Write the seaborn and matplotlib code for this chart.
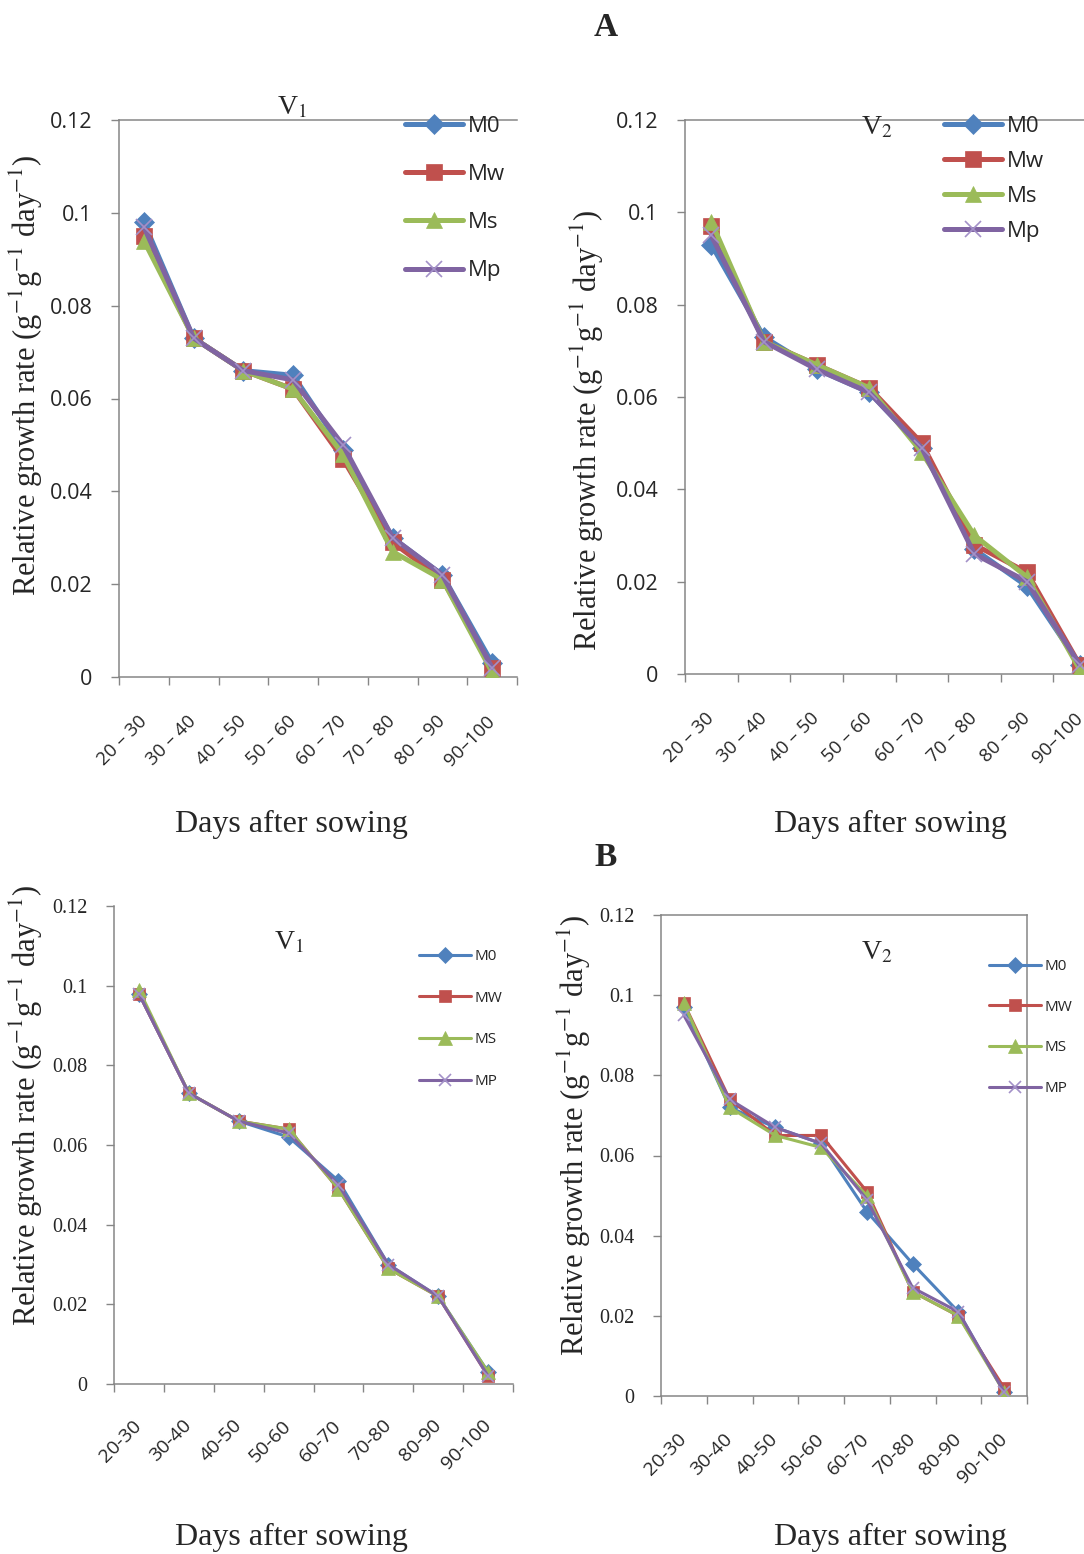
import numpy as np
import pandas as pd
import matplotlib
matplotlib.use("Agg")
import matplotlib.pyplot as plt
import seaborn as sns
from matplotlib.ticker import FixedLocator, FixedFormatter, NullFormatter
from matplotlib.font_manager import FontProperties

# growth stages (days after sowing)
stages = ['20-30', '30-40', '40-50', '50-60', '60-70', '70-80', '80-90', '90-100']
stage_labels_a = ['20 – 30', '30 – 40', '40 – 50', '50 – 60', '60 – 70', '70 – 80', '80 – 90', '90–100']
stage_labels_b = ['20-30', '30-40', '40-50', '50-60', '60-70', '70-80', '80-90', '90-100']
names_a = ['M0', 'Mw', 'Ms', 'Mp']
names_b = ['M0', 'MW', 'MS', 'MP']
y_ticks = [0, 0.02, 0.04, 0.06, 0.08, 0.1, 0.12]
y_tick_labels = ['0', '0.02', '0.04', '0.06', '0.08', '0.1', '0.12']

# panel A, V1
a_v1_m0 = [0.098, 0.073, 0.066, 0.065, 0.049, 0.030, 0.022, 0.003]
a_v1_mw = [0.095, 0.073, 0.066, 0.062, 0.047, 0.029, 0.021, 0.002]
a_v1_ms = [0.094, 0.073, 0.066, 0.062, 0.048, 0.027, 0.021, 0.001]
a_v1_mp = [0.097, 0.073, 0.066, 0.064, 0.050, 0.030, 0.022, 0.002]
# panel A, V2
a_v2_m0 = [0.093, 0.073, 0.066, 0.061, 0.049, 0.027, 0.019, 0.002]
a_v2_mw = [0.097, 0.072, 0.067, 0.062, 0.050, 0.028, 0.022, 0.002]
a_v2_ms = [0.098, 0.072, 0.067, 0.062, 0.048, 0.030, 0.021, 0.001]
a_v2_mp = [0.095, 0.072, 0.066, 0.061, 0.049, 0.026, 0.020, 0.002]
# panel B, V1
b_v1_m0 = [0.098, 0.073, 0.066, 0.062, 0.051, 0.030, 0.022, 0.003]
b_v1_mw = [0.098, 0.073, 0.066, 0.064, 0.049, 0.029, 0.022, 0.002]
b_v1_ms = [0.099, 0.073, 0.066, 0.064, 0.049, 0.029, 0.022, 0.003]
b_v1_mp = [0.098, 0.073, 0.066, 0.063, 0.050, 0.030, 0.022, 0.002]
# panel B, V2
b_v2_m0 = [0.097, 0.072, 0.067, 0.063, 0.046, 0.033, 0.021, 0.001]
b_v2_mw = [0.098, 0.074, 0.065, 0.065, 0.051, 0.026, 0.020, 0.002]
b_v2_ms = [0.098, 0.072, 0.065, 0.062, 0.050, 0.026, 0.020, 0.001]
b_v2_mp = [0.095, 0.074, 0.067, 0.063, 0.049, 0.027, 0.021, 0.001]

colors = ['#4F81BD', '#C0504D', '#9BBB59', '#8064A2']
markers = ['D', 's', '^', 'x']
grey = '#868686'

sns.set_style('white')
plt.rcParams['font.family'] = ['Open Sans', 'DejaVu Sans']
plt.rcParams['mathtext.fontset'] = 'stix'
serif = 'Liberation Serif'

fig = plt.figure(figsize=(10.84, 15.54), dpi=100)
W, H = 1084, 1554


def add_ax(x0, y0, x1, y1):
    return fig.add_axes([x0 / W, 1 - y1 / H, (x1 - x0) / W, (y1 - y0) / H])


def panel(ax, series, names, labels, big, top_spine, right_spine, leg_xy, leg_space,
          ytick_font, title, title_xy, ylab_x, ylab_y, xlab_x, xlab_y, xlab_pad):
    lw = 3.6 if big else 2.2
    for i, (vals, name) in enumerate(zip(series, names)):
        ms = [10, 11, 12, 11][i] if big else [8, 9, 10, 9][i]
        mc = colors[i] if i < 3 else '#A391C8'
        sns.lineplot(x=stages, y=vals, ax=ax, color=colors[i], linewidth=lw,
                     marker=markers[i], markersize=ms, markeredgecolor=mc,
                     markerfacecolor=mc, markeredgewidth=1.2 if i == 3 else 0.5,
                     label=name, zorder=3 + i)
    ax.set_xlim(-0.5, 7.5)
    ax.set_ylim(0, 0.12)
    ax.yaxis.set_major_locator(FixedLocator(y_ticks))
    ax.yaxis.set_major_formatter(FixedFormatter(y_tick_labels))
    ax.xaxis.set_major_locator(FixedLocator(np.arange(-0.5, 8)))
    ax.xaxis.set_major_formatter(NullFormatter())
    ax.xaxis.set_minor_locator(FixedLocator(np.arange(8)))
    ax.xaxis.set_minor_formatter(FixedFormatter(labels))
    ax.tick_params(axis='y', which='major', direction='out', length=6, width=1,
                   color=grey, pad=13, left=True)
    ax.tick_params(axis='x', which='major', direction='out', length=6, width=1,
                   color=grey, bottom=True)
    ax.tick_params(axis='x', which='minor', length=0, pad=xlab_pad, bottom=True)
    for lab in ax.get_yticklabels():
        lab.set_fontproperties(ytick_font)
    for lab in ax.xaxis.get_minorticklabels():
        lab.set(rotation=45, ha='right', va='center', rotation_mode='anchor',
                fontsize=13.5 if big else 14, family=['Open Sans'])
    for side in ['left', 'bottom', 'top', 'right']:
        ax.spines[side].set_color(grey)
        ax.spines[side].set_linewidth(1.1)
    ax.spines['top'].set_visible(top_spine)
    ax.spines['right'].set_visible(right_spine)
    ax.set_xlabel('')
    ax.set_ylabel('')

    fs = 16 if big else 11
    hl = 2.6 if big else 3.4
    ax.legend(loc='upper left', bbox_to_anchor=(leg_xy[0] / W, 1 - leg_xy[1] / H),
              bbox_transform=fig.transFigure, frameon=False, fontsize=fs,
              borderpad=0, borderaxespad=0, handlelength=hl, handletextpad=0.25,
              labelspacing=leg_space)

    fig.text(title_xy[0] / W, 1 - title_xy[1] / H, title, family=serif,
             fontsize=20, ha='center', va='center')
    fig.text(ylab_x / W, 1 - ylab_y / H,
             'Relative growth rate (g$^{-1}$g$^{-1}$ day$^{-1}$)', family=serif,
             fontsize=22, rotation=90, ha='center', va='center')
    fig.text(xlab_x / W, 1 - xlab_y / H, 'Days after sowing', family=serif,
             fontsize=23, ha='center', va='center')


tick_sans = FontProperties(family='Open Sans', size=15.5)
tick_serif = FontProperties(family=serif, size=14.5)

ax1 = add_ax(119, 120, 517, 677)
panel(ax1, [a_v1_m0, a_v1_mw, a_v1_ms, a_v1_mp], names_a, stage_labels_a, True,
      True, False, (405, 116), 1.22, tick_sans, 'V$_1$', (292, 108),
      26, 375, 291, 824, 30)

ax2 = add_ax(685, 120, 1106, 674)
panel(ax2, [a_v2_m0, a_v2_mw, a_v2_ms, a_v2_mp], names_a, stage_labels_a, True,
      True, False, (944, 116), 0.63, tick_sans, 'V$_2$', (877, 128),
      587, 430, 890, 824, 30)

ax3 = add_ax(114, 906, 513, 1384)
panel(ax3, [b_v1_m0, b_v1_mw, b_v1_ms, b_v1_mp], names_b, stage_labels_b, False,
      False, False, (419, 949), 1.75, tick_serif, 'V$_1$', (289, 943),
      26, 1105, 291, 1537, 28)

ax4 = add_ax(661, 915, 1027, 1396)
panel(ax4, [b_v2_m0, b_v2_mw, b_v2_ms, b_v2_mp], names_b, stage_labels_b, False,
      True, True, (989, 959), 1.68, tick_serif, 'V$_2$', (877, 953),
      574, 1135, 890, 1537, 29)

fig.text(606 / W, 1 - 27 / H, 'A', family=serif, fontsize=24, weight='bold',
         ha='center', va='center')
fig.text(606 / W, 1 - 858 / H, 'B', family=serif, fontsize=24, weight='bold',
         ha='center', va='center')

fig.savefig('out.png', dpi=100)
